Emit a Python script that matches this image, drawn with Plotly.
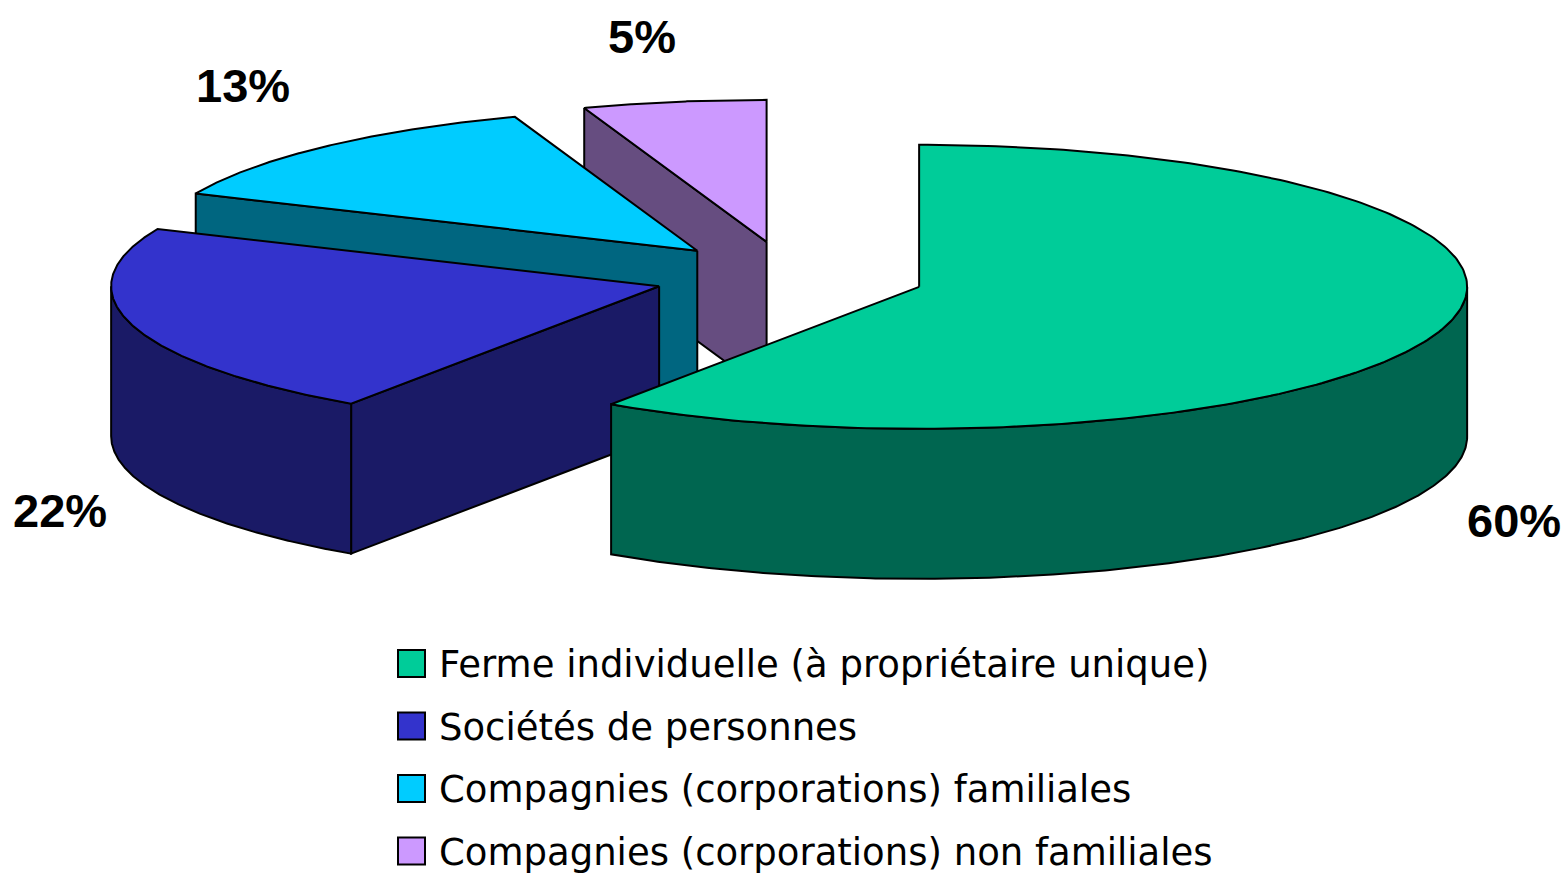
import numpy as np
import plotly.graph_objects as go

# ---------------- data ----------------
categories = [
    "Ferme individuelle (à propriétaire unique)",
    "Sociétés de personnes",
    "Compagnies (corporations) familiales",
    "Compagnies (corporations) non familiales",
]
values = [59.5, 22.1, 13.0, 5.4]
pct_labels = [f"{round(v)}%" for v in values]

# ---------------- styles ----------------
top_colors = ["#00CC99", "#3333CC", "#00CCFF", "#CC99FF"]
side_colors = ["#006650", "#1A1A66", "#006680", "#664D80"]
FONT = "Liberation Sans, Arial, sans-serif"
LEG_FONT = "DejaVu Sans, Arial, sans-serif"
W, Hpx = 1568, 873

# projection geometry (screen px)
CX, CY = 789.5, 276.5
RX, RY = 548.0, 142.0
DEPTH = 150.0
EXPLODE = 0.2475
LINE = dict(color="black", width=2)

# label anchors (screen px)
label_pos = [(1514, 520), (60, 510), (243, 85), (642, 36)]

total = sum(values)
starts = np.cumsum([0] + values[:-1]) / total * 360.0
ends = np.cumsum(values) / total * 360.0


def pt(ox, oy, a, dz=0.0):
    r = np.radians(a)
    return ox + RX * np.sin(r), oy - RY * np.cos(r) + dz


def arc(ox, oy, a1, a2, dz=0.0, n=240):
    a = np.radians(np.linspace(a1, a2, n))
    return list(ox + RX * np.sin(a)), list(oy - RY * np.cos(a) + dz)


fig = go.Figure()


def poly(xs, ys, color):
    fig.add_trace(go.Scatter(
        x=xs + [xs[0]], y=ys + [ys[0]], mode="lines", fill="toself",
        fillcolor=color, line=LINE, hoverinfo="skip", showlegend=False))


# draw back-to-front
for i in reversed(range(len(values))):
    a1, a2 = starts[i], ends[i]
    mid = np.radians((a1 + a2) / 2)
    ox = CX + EXPLODE * RX * np.sin(mid)
    oy = CY - EXPLODE * RY * np.cos(mid)
    # start cut face
    if np.sin(np.radians(a1)) < -1e-6:
        px, py = pt(ox, oy, a1)
        poly([ox, px, px, ox], [oy, py, py + DEPTH, oy + DEPTH], side_colors[i])
    # end cut face
    if np.sin(np.radians(a2)) > 1e-6:
        px, py = pt(ox, oy, a2)
        poly([ox, px, px, ox], [oy, py, py + DEPTH, oy + DEPTH], side_colors[i])
    # outer visible side
    s1, s2 = max(a1, 90.0), min(a2, 270.0)
    if s2 > s1:
        tx, ty = arc(ox, oy, s1, s2)
        bx, by = arc(ox, oy, s2, s1, DEPTH)
        poly(tx + bx, ty + by, side_colors[i])
    # top
    tx, ty = arc(ox, oy, a1, a2)
    poly([ox] + tx, [oy] + ty, top_colors[i])

# percentage labels
for (lx, ly), txt in zip(label_pos, pct_labels):
    fig.add_annotation(x=lx, y=ly, text=f"<b>{txt}</b>", showarrow=False,
                       xanchor="center", yanchor="middle",
                       font=dict(family=FONT, size=47, color="black"))

# legend (manual)
leg_x0, leg_y0, leg_dy, box = 398, 650, 62.5, 27
for i, cat in enumerate(categories):
    y0 = leg_y0 + i * leg_dy
    fig.add_shape(type="rect", x0=leg_x0, x1=leg_x0 + box, y0=y0, y1=y0 + box,
                  fillcolor=top_colors[i], line=dict(color="black", width=2))
    fig.add_annotation(x=leg_x0 + box + 12, y=y0 + box / 2 + 1, text=cat,
                       showarrow=False, xanchor="left", yanchor="middle",
                       font=dict(family=LEG_FONT, size=37, color="black"))

fig.update_layout(
    width=W, height=Hpx, margin=dict(l=0, r=0, t=0, b=0),
    paper_bgcolor="white", plot_bgcolor="white",
    xaxis=dict(range=[0, W], visible=False, fixedrange=True),
    yaxis=dict(range=[Hpx, 0], visible=False, fixedrange=True),
    showlegend=False,
)
fig.write_html("out.html", config={"displayModeBar": False},
               post_script="document.body.style.margin='0';")
